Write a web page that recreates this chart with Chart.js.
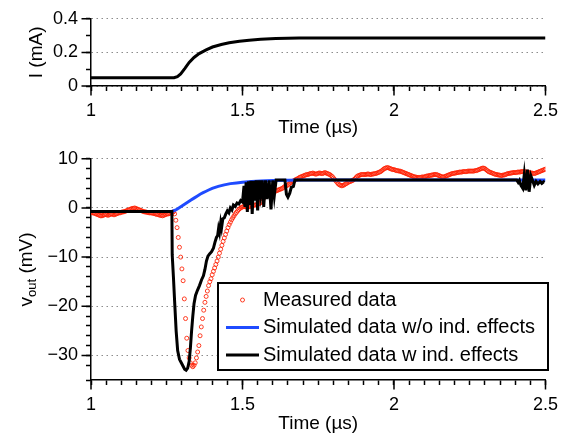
<!DOCTYPE html>
<html>
<head>
<meta charset="utf-8">
<script src="https://cdn.jsdelivr.net/npm/chart.js@4"></script>
<style>
  html, body { margin: 0; padding: 0; background: #fff; }
  .box { position: relative; width: 567px; }
</style>
</head>
<body>
<div class="box" style="height:140px"><canvas id="topChart"></canvas></div>
<div class="box" style="height:294px"><canvas id="botChart"></canvas></div>
<script>
const FONT = "'Liberation Sans', Arial, Helvetica, sans-serif";
Chart.defaults.font.family = FONT;
Chart.defaults.color = '#000';

// axis ticks with a label
const xMajor = [1, 1.5, 2, 2.5];
const topMajor = [0, 0.2, 0.4];
const botMajor = [-30, -20, -10, 0, 10];

// current through the device (top panel)
const curT = [1.0, 1.274, 1.285, 1.296, 1.31, 1.324, 1.34, 1.357, 1.38, 1.401, 1.43, 1.456, 1.49, 1.522, 1.56, 1.61, 1.687, 2.5];
const curI = [0.049, 0.049, 0.056, 0.072, 0.105, 0.14, 0.17, 0.193, 0.215, 0.232, 0.247, 0.257, 0.266, 0.273, 0.278, 0.283, 0.286, 0.286];

// measured vout, sampled every 4 ns from 1.0 us
const measStart = 1.0;
const measStep = 0.004;
const measV = [
  -0.9,-1.0,-1.0,-1.1,-1.2,-1.3,-1.4,-1.5,-1.6,-1.6,-1.5,-1.4,-1.3,-1.4,-1.5,-1.4,-1.3,-1.2,-1.3,-1.4,-1.3,-1.2,-1.1,-1.0,-1.0,
  -0.9,-0.8,-0.8,-0.7,-0.6,-0.5,-0.4,-0.3,-0.2,-0.1,-0.1,0.0,-0.1,-0.2,-0.3,-0.4,-0.5,-0.6,-0.7,-0.8,-0.8,-0.9,-0.9,-1.0,-1.0,
  -1.0,-1.1,-1.1,-1.2,-1.3,-1.3,-1.4,-1.5,-1.5,-1.6,-1.5,-1.4,-1.3,-1.2,-1.2,-1.1,-1.0,-0.9,-0.8,-1.2,-2.5,-4.0,-6.0,-8.0,-10.0,
  -12.4,-14.8,-18.5,-22.5,-26.5,-29.0,-30.5,-31.5,-32.0,-32.3,-32.0,-31.5,-30.5,-29.3,-28.0,-26.0,-24.2,-22.5,-20.8,-19.2,-18.0,-16.9,-15.8,-15.0,-14.4,
  -13.6,-12.9,-12.2,-11.5,-10.8,-10.0,-9.2,-8.4,-7.6,-6.8,-6.1,-5.4,-4.7,-4.0,-3.4,-2.9,-2.4,-2.0,-1.6,-1.2,-0.9,-0.6,-0.3,-0.1,0.1,
  0.2,0.3,0.3,0.2,0.1,0.2,0.3,0.4,0.5,0.5,0.6,0.6,0.7,0.8,0.9,1.1,1.4,1.8,2.2,2.5,2.7,2.8,2.9,3.0,3.1,
  3.2,3.3,3.4,3.5,3.6,3.7,3.8,3.9,4.0,4.2,4.4,4.5,4.6,4.8,5.0,5.2,5.4,5.5,5.6,5.8,5.9,6.0,6.2,6.3,6.4,
  6.5,6.6,6.7,6.8,6.8,6.9,7.0,7.0,7.1,7.0,6.9,6.9,7.0,7.1,7.1,7.0,7.0,7.1,7.2,7.1,7.0,6.9,6.8,6.6,6.4,
  6.1,5.8,5.5,5.2,4.9,4.7,4.6,4.5,4.6,4.7,4.9,5.0,5.2,5.3,5.4,5.5,5.6,5.8,6.0,6.3,6.5,6.6,6.7,6.8,6.8,
  6.8,6.8,6.8,6.9,6.9,6.8,6.8,6.9,6.9,7.0,7.0,7.1,7.2,7.3,7.4,7.6,7.8,8.0,8.1,8.2,8.2,8.1,8.0,7.9,7.8,
  7.8,7.7,7.6,7.6,7.5,7.5,7.4,7.3,7.2,7.1,7.0,6.9,6.8,6.7,6.6,6.5,6.4,6.3,6.3,6.2,6.2,6.2,6.2,6.3,6.3,
  6.3,6.4,6.5,6.5,6.6,6.6,6.7,6.7,6.8,6.8,6.8,6.7,6.6,6.5,6.4,6.3,6.3,6.4,6.5,6.6,6.7,6.8,6.9,7.0,7.0,
  7.1,7.1,7.2,7.2,7.3,7.3,7.3,7.4,7.4,7.4,7.4,7.5,7.5,7.5,7.5,7.5,7.5,7.6,7.6,7.7,7.8,7.9,8.0,8.1,8.1,
  8.0,7.8,7.6,7.4,7.3,7.2,7.1,7.0,6.9,6.8,6.8,6.7,6.7,6.6,6.6,6.7,6.7,6.8,6.9,7.0,7.0,7.1,7.1,7.2,7.2,
  7.2,7.2,7.3,7.3,7.3,7.4,7.4,7.4,7.4,7.3,7.3,7.2,7.2,7.1,7.1,7.0,7.0,7.1,7.2,7.3,7.4,7.5,7.6,7.7,7.8,
  7.9
];

// simulated without inductive effects
const blueT = [1.0, 1.267, 1.28, 1.29, 1.30, 1.31, 1.32, 1.33, 1.34, 1.35, 1.36, 1.37, 1.38, 1.39, 1.40, 1.42, 1.44, 1.46, 1.48, 1.50, 1.53, 1.56, 1.60, 1.65, 1.70, 2.5];
const blueV = [-0.7, -0.7, -0.4, 0.0, 0.4, 0.8, 1.2, 1.6, 2.0, 2.4, 2.8, 3.1, 3.4, 3.7, 4.0, 4.4, 4.7, 4.95, 5.1, 5.25, 5.4, 5.5, 5.6, 5.65, 5.7, 5.7];

// simulated with inductive effects
const blackT = [
  1.000, 1.267, 1.268, 1.272, 1.276, 1.281, 1.286, 1.292, 1.298, 1.304, 1.309, 1.314, 1.319, 1.324, 1.328, 1.332, 1.336, 1.340, 1.345, 1.351,
  1.358, 1.365, 1.371, 1.376, 1.381, 1.386, 1.392, 1.398, 1.404, 1.409, 1.414, 1.418, 1.421, 1.424, 1.428, 1.431, 1.435, 1.440, 1.445, 1.450,
  1.455, 1.460, 1.465, 1.470, 1.476, 1.482, 1.488, 1.494, 1.500, 1.505, 1.508, 1.512, 1.516, 1.520, 1.524, 1.528, 1.532, 1.537, 1.541, 1.545,
  1.550, 1.555, 1.560, 1.565, 1.570, 1.576, 1.581, 1.588, 1.594, 1.600, 1.605, 1.611, 1.640, 1.645, 1.650, 1.656, 1.661, 1.668, 1.673, 2.405,
  2.410, 2.414, 2.419, 2.425, 2.430, 2.435, 2.441, 2.446, 2.452, 2.458, 2.463, 2.469, 2.475, 2.482, 2.488, 2.494, 2.497
];
const blackV = [
  -0.7, -0.7, -9.5, -14.0, -19.0, -25.0, -29.0, -30.8, -31.5, -32.2, -32.8, -33.0, -32.6, -31.2, -28.5, -25.0, -22.0, -19.5, -17.8, -16.8,
  -15.8, -14.6, -13.8, -12.5, -10.8, -9.8, -9.3, -8.9, -8.2, -7.0, -6.0, -5.6, -4.2, -5.0, -3.0, -4.0, -2.2, -2.0, -1.2, -0.6,
  -1.0, 0.0, -0.4, 0.6, 0.3, 1.0, 0.8, 1.5, 1.2, 4.5, 0.2, 5.2, -0.8, 5.4, 0.6, 5.5, -1.2, 5.5, 1.5, 5.6,
  -0.5, 5.6, 2.8, 5.6, 0.2, 5.6, 1.8, 5.6, -0.3, 5.6, 2.5, 5.7, 5.7, 2.8, 2.2, 3.0, 4.2, 4.4, 5.7, 5.7,
  5.2, 5.6, 4.6, 4.0, 6.8, 3.6, 7.8, 3.3, 6.5, 5.5, 4.6, 5.4, 4.9, 5.4, 5.0, 5.3, 5.2
];

function pts(xs, ys) { return xs.map((x, i) => ({ x: x, y: ys[i] })); }
const measPts = measV.map((v, i) => ({ x: measStart + i * measStep, y: v }));

function isMajor(v, list) { return list.some(m => Math.abs(v - m) < 1e-6); }
function fmt(v) {
  const r = Math.round(v * 100) / 100;
  return r < 0 ? '\u2212' + Math.abs(r) : String(r);
}

// longer tick marks at labelled ticks
const majorTicks = {
  id: 'majorTicks',
  afterDraw(chart, args, opts) {
    const ctx = chart.ctx, ca = chart.chartArea;
    ctx.save();
    ctx.strokeStyle = '#000';
    ctx.lineWidth = 1.5;
    ctx.beginPath();
    opts.xs.forEach(v => {
      const px = chart.scales.x.getPixelForValue(v);
      ctx.moveTo(px, ca.bottom); ctx.lineTo(px, ca.bottom + 9.5);
    });
    opts.ys.forEach(v => {
      const py = chart.scales.y.getPixelForValue(v);
      ctx.moveTo(ca.left - 9.5, py); ctx.lineTo(ca.left, py);
    });
    ctx.stroke();
    ctx.restore();
  }
};

// rotated y title with optional subscript
const yTitle = {
  id: 'yTitle',
  afterDraw(chart, args, opts) {
    const ctx = chart.ctx, ca = chart.chartArea;
    const big = '19px ' + FONT, small = '13px ' + FONT;
    ctx.save();
    ctx.translate(opts.x, (ca.top + ca.bottom) / 2);
    ctx.rotate(-Math.PI / 2);
    ctx.fillStyle = '#000';
    ctx.textBaseline = 'middle';
    ctx.textAlign = 'left';
    let total = 0;
    const ws = opts.parts.map(p => {
      ctx.font = p.sub ? small : big;
      const w = ctx.measureText(p.text).width;
      total += w;
      return w;
    });
    let x = -total / 2;
    opts.parts.forEach((p, i) => {
      ctx.font = p.sub ? small : big;
      ctx.fillText(p.text, x, p.sub ? 5 : 0);
      x += ws[i];
    });
    ctx.restore();
  }
};

// boxed legend inside the plot
const boxLegend = {
  id: 'boxLegend',
  afterDraw(chart, args, opts) {
    if (!opts.show) return;
    const ctx = chart.ctx;
    ctx.save();
    ctx.fillStyle = '#fff';
    ctx.fillRect(opts.left, opts.top, opts.width, opts.height);
    ctx.lineWidth = 2;
    ctx.strokeStyle = '#000';
    ctx.strokeRect(opts.left, opts.top, opts.width, opts.height);
    ctx.font = '20px ' + FONT;
    ctx.textBaseline = 'middle';
    ctx.textAlign = 'left';
    chart.data.datasets.forEach((ds, i) => {
      const y = opts.top + opts.first + i * opts.gap;
      const x0 = opts.left + 8, x1 = opts.left + 41;
      if (ds.showLine) {
        ctx.strokeStyle = ds.borderColor;
        ctx.lineWidth = ds.borderWidth;
        ctx.beginPath(); ctx.moveTo(x0, y); ctx.lineTo(x1, y); ctx.stroke();
      } else {
        ctx.strokeStyle = ds.pointBorderColor;
        ctx.lineWidth = ds.pointBorderWidth;
        ctx.beginPath(); ctx.arc((x0 + x1) / 2, y, ds.pointRadius, 0, Math.PI * 2); ctx.stroke();
      }
      ctx.fillStyle = '#000';
      ctx.fillText(ds.label, opts.left + 45, y);
    });
    ctx.restore();
  }
};

function xAxis(titlePad) {
  return {
    type: 'linear', min: 1, max: 2.5,
    afterFit(s) { s.height = 54; },
    border: { color: '#000', width: 1.5 },
    grid: { drawOnChartArea: false, tickLength: 5, tickColor: '#000', tickWidth: 1.5 },
    ticks: {
      stepSize: 0.05, autoSkip: false, maxRotation: 0, padding: 9,
      font: { size: 18 }, color: '#000',
      callback: v => isMajor(v, xMajor) ? fmt(v) : ''
    },
    title: { display: true, text: 'Time (\u00b5s)', color: '#000', font: { size: 19, lineHeight: 1 }, padding: { top: 0, bottom: titlePad } }
  };
}

function yAxis(min, max, step, major) {
  return {
    type: 'linear', min: min, max: max,
    afterFit(s) { s.width = 91; },
    border: { color: '#000', width: 1.5, dash: [1.5, 3.5] },
    grid: {
      color: c => (c.tick && isMajor(c.tick.value, major)) ? '#8c8c8c' : 'rgba(0,0,0,0)',
      lineWidth: 1,
      tickLength: 5, tickColor: '#000', tickWidth: 1.5
    },
    ticks: {
      stepSize: step, autoSkip: false, padding: 8,
      font: { size: 18 }, color: '#000',
      callback: v => isMajor(v, major) ? fmt(v) : ''
    }
  };
}

const topChart = new Chart(document.getElementById('topChart'), {
  type: 'scatter',
  data: {
    datasets: [{
      label: 'I', data: pts(curT, curI), showLine: true,
      borderColor: '#000', borderWidth: 3, pointRadius: 0
    }]
  },
  options: {
    responsive: true, maintainAspectRatio: false, animation: false, events: [],
    layout: { padding: { top: 17, right: 21, left: 0, bottom: 0 } },
    scales: { x: xAxis(2.5), y: yAxis(0, 0.4, 0.1, topMajor) },
    plugins: {
      legend: { display: false }, tooltip: { enabled: false },
      majorTicks: { xs: xMajor, ys: topMajor },
      yTitle: { x: 37, parts: [{ text: 'I (mA)' }] },
      boxLegend: { show: false }
    }
  },
  plugins: [majorTicks, yTitle, boxLegend]
});

const botChart = new Chart(document.getElementById('botChart'), {
  type: 'scatter',
  data: {
    datasets: [
      {
        label: 'Measured data', data: measPts, showLine: false,
        pointStyle: 'circle', pointRadius: 2, pointBorderWidth: 1,
        pointBorderColor: 'rgba(255,30,0,0.85)', pointBackgroundColor: 'rgba(0,0,0,0)', order: 3
      },
      {
        label: 'Simulated data w/o ind. effects', data: pts(blueT, blueV), showLine: true,
        borderColor: '#1f4bff', borderWidth: 3, pointRadius: 0, order: 2
      },
      {
        label: 'Simulated data w ind. effects', data: pts(blackT, blackV), showLine: true,
        borderColor: '#000', borderWidth: 3, pointRadius: 0, order: 1
      }
    ]
  },
  options: {
    responsive: true, maintainAspectRatio: false, animation: false, events: [],
    layout: { padding: { top: 14, right: 21, left: 0, bottom: 0 } },
    scales: { x: xAxis(0.5), y: yAxis(-35, 10, 2, botMajor) },
    plugins: {
      legend: { display: false }, tooltip: { enabled: false },
      majorTicks: { xs: xMajor, ys: botMajor },
      yTitle: { x: 27, parts: [{ text: 'v' }, { text: 'out', sub: true }, { text: ' (mV)' }] },
      boxLegend: { show: true, left: 218, top: 143, width: 330, height: 87, first: 17, gap: 27.5 }
    }
  },
  plugins: [majorTicks, yTitle, boxLegend]
});
</script>
</body>
</html>
